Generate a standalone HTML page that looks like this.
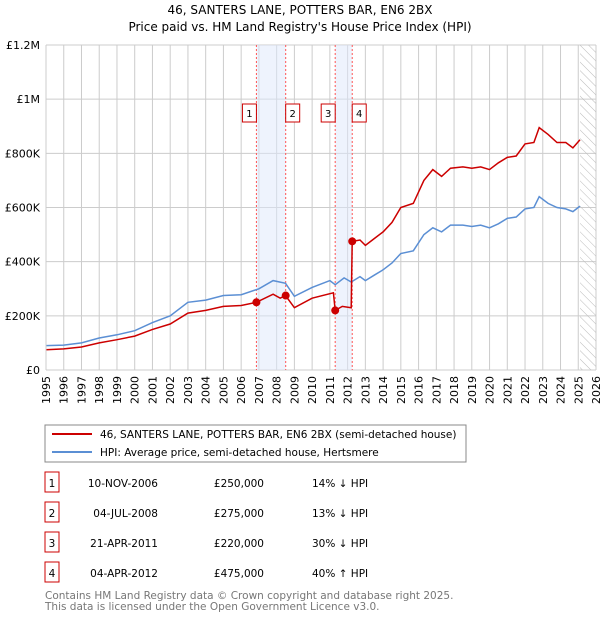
<!DOCTYPE html>
<html><head><meta charset="utf-8"><style>
body{margin:0;background:#fff;font-family:"DejaVu Sans","Liberation Sans",sans-serif;}
svg text{font-family:"DejaVu Sans","Liberation Sans",sans-serif;}
</style></head><body>
<svg id="chart" width="600" height="620" xmlns="http://www.w3.org/2000/svg">
<defs><pattern id="hatch" width="6" height="6" patternUnits="userSpaceOnUse" patternTransform="rotate(-45)"><line x1="0" y1="0" x2="0" y2="6" stroke="#bbb" stroke-width="1"/></pattern></defs>
<text x="300" y="14" text-anchor="middle" font-size="12">46, SANTERS LANE, POTTERS BAR, EN6 2BX</text>
<text x="300" y="31" text-anchor="middle" font-size="12">Price paid vs. HM Land Registry's House Price Index (HPI)</text>
<g id="grid"></g><g id="bands"></g><g id="lines"></g><g id="marks"></g><g id="axes"></g>
<rect x="45" y="425" width="421" height="37" fill="#fff" stroke="#888"/>
<line x1="52" y1="434" x2="92" y2="434" stroke="#cc0000" stroke-width="2"/>
<text x="100" y="438" font-size="10.5">46, SANTERS LANE, POTTERS BAR, EN6 2BX (semi-detached house)</text>
<line x1="52" y1="452" x2="92" y2="452" stroke="#5b8fd4" stroke-width="2"/>
<text x="100" y="456" font-size="10.5">HPI: Average price, semi-detached house, Hertsmere</text>
<g id="table" font-size="10.5"></g>
<text x="45" y="599" font-size="10.5" fill="#777">Contains HM Land Registry data © Crown copyright and database right 2025.</text>
<text x="45" y="610" font-size="10.5" fill="#777">This data is licensed under the Open Government Licence v3.0.</text>
</svg>
<script>
const hpiYears=[1995,1996,1997,1998,1999,2000,2001,2002,2003,2004,2005,2006,2007,2007.8,2008.5,2009,2010,2011,2011.3,2011.8,2012.2,2012.7,2013,2013.5,2014,2014.5,2015,2015.7,2016.3,2016.8,2017.3,2017.8,2018.5,2019,2019.5,2020,2020.5,2021,2021.5,2022,2022.5,2022.8,2023.3,2023.8,2024.3,2024.7,2025.1];
const hpiValues=[90,92,100,118,130,145,175,200,250,258,275,278,300,330,320,272,305,330,315,340,325,345,330,350,370,395,430,440,500,525,510,535,535,530,535,525,540,560,565,595,600,640,615,600,595,585,605];
const redYears=[1995,1996,1997,1998,1999,2000,2001,2002,2003,2004,2005,2006,2006.86,2007.8,2008.2,2008.5,2009,2010,2011.2,2011.3,2011.7,2012.2,2012.26,2012.7,2013,2013.5,2014,2014.5,2015,2015.7,2016.3,2016.8,2017.3,2017.8,2018.5,2019,2019.5,2020,2020.5,2021,2021.5,2022,2022.5,2022.8,2023.3,2023.8,2024.3,2024.7,2025.1];
const redValues=[75,78,85,100,112,125,150,170,210,220,235,238,250,280,265,275,230,265,285,220,235,230,475,480,460,485,510,545,600,615,700,740,715,745,750,745,750,740,765,785,790,835,840,895,870,840,840,820,850];
const saleYears=[2006.86,2008.51,2011.3,2012.26];
const saleValues=[250,275,220,475];
const saleLabels=["1","2","3","4"];
const saleDates=["10-NOV-2006","04-JUL-2008","21-APR-2011","04-APR-2012"];
const salePrices=["£250,000","£275,000","£220,000","£475,000"];
const saleDiffs=["14% ↓ HPI","13% ↓ HPI","30% ↓ HPI","40% ↑ HPI"];
const yTicks=[0,200,400,600,800,1000,1200];
const yTickLabels=["£0","£200K","£400K","£600K","£800K","£1M","£1.2M"];
const X0=46,X1=596,Y0=370,Y1=45;
const xs=y=>X0+(y-1995)/(2026-1995)*(X1-X0);
const ys=v=>Y0-v/1200*(Y0-Y1);
const NS="http://www.w3.org/2000/svg";
function mk(p,tag,at){const e=document.createElementNS(NS,tag);for(const k in at)e.setAttribute(k,at[k]);document.getElementById(p).appendChild(e);return e;}
for(let y=1995;y<=2026;y++){const l=mk('grid','line',{x1:xs(y),x2:xs(y),y1:Y1,y2:Y0,stroke:'#ccc'});


const t=mk('axes','text',{x:0,y:0,'font-size':11,'text-anchor':'end',transform:`translate(${xs(y)+4},${Y0+6}) rotate(-90)`});t.textContent=y;

}
yTicks.forEach((v,i)=>{const l=mk('grid','line',{x1:X0,x2:X1,y1:ys(v),y2:ys(v),stroke:'#ccc'});


const t=mk('axes','text',{x:X0-6,y:ys(v)+4,'font-size':11,'text-anchor':'end'});t.textContent=yTickLabels[i];

});
const h=mk('bands','rect',{x:xs(2025.1),y:Y1,width:X1-xs(2025.1),height:Y0-Y1,fill:'url(#hatch)'});


[[0,1],[2,3]].forEach(p=>{const b=mk('bands','rect',{x:xs(saleYears[p[0]]),y:Y1,width:xs(saleYears[p[1]])-xs(saleYears[p[0]]),height:Y0-Y1,fill:'#dde8fb',opacity:0.5});

});
saleYears.forEach((y,i)=>{const l=mk('bands','line',{x1:xs(y),x2:xs(y),y1:Y1,y2:Y0,stroke:'#f55','stroke-dasharray':'2,2'});


const dx=i%2==0?-7:7;
const r=mk('marks','rect',{x:xs(y)+dx-7,y:104,width:14,height:18,fill:'#fff',stroke:'#cc0000'});


const t=mk('marks','text',{x:xs(y)+dx,y:117,'font-size':10,'text-anchor':'middle'});t.textContent=saleLabels[i];

});
function path(xa,va){return xa.map((x,i)=>(i?'L':'M')+xs(x).toFixed(1)+','+ys(va[i]).toFixed(1)).join('');}
const bl=mk('lines','path',{d:path(hpiYears,hpiValues),fill:'none',stroke:'#5b8fd4','stroke-width':1.5});


const rl=mk('lines','path',{d:path(redYears,redValues),fill:'none',stroke:'#cc0000','stroke-width':1.5});


saleYears.forEach((y,i)=>{const c=mk('marks','circle',{cx:xs(y),cy:ys(saleValues[i]),r:4,fill:'#cc0000'});

});
mk('axes','line',{x1:X0,x2:X0,y1:Y1,y2:Y0,stroke:'#ccc'});
saleLabels.forEach((s,i)=>{const y=483+i*30;
const r=mk('table','rect',{x:45,y:y-11,width:14,height:20,fill:'#fff',stroke:'#cc0000'});


[[52,s,'middle'],[158,saleDates[i],'end'],[264,salePrices[i],'end'],[312,saleDiffs[i],'start']].forEach(c=>{const t=mk('table','text',{x:c[0],y:y+4,'text-anchor':c[2]});t.textContent=c[1];

});});
</script>
</body></html>
